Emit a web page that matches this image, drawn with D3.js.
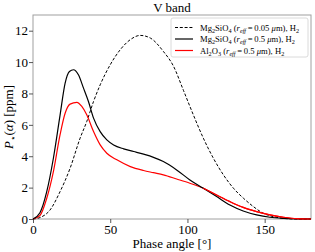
<!DOCTYPE html>
<html><head><meta charset="utf-8">
<script src="https://cdn.jsdelivr.net/npm/d3@7/dist/d3.min.js"></script>
<style>
body{margin:0;background:#fff;}
svg{display:block;font-family:"Liberation Serif","DejaVu Serif",serif;}
</style></head>
<body><svg id="c" width="315" height="252"></svg>
<script>
const xTicks=[0,50,100,150];
const yTicks=[0,2,4,6,8,10,12];
const seriesNames=["Mg2SiO4 (0.05)","Mg2SiO4 (0.5)","Al2O3 (0.5)"];
const dashAngles=[0,4.5,11,17.5,24,30.5,34.8,39.2,43.5,50,56.5,63,69.5,76,84.4,90.9,97.4,103.8,110.3,116.8,123.3,129.8,136.3,142.7,149.2,155.7,162.2,170,180];
const dashValues=[0,0.09,0.57,1.74,3.23,5.15,6.21,7.49,8.55,9.83,10.79,11.43,11.70,11.53,10.68,9.75,8.2,6.64,5.15,3.87,2.81,1.96,1.32,0.79,0.36,0.15,0.04,0,0];
const blackAngles=[0,4.5,8.9,13.2,17.5,20.8,23.6,26.2,29.4,32.7,35.9,39.2,43.5,47.8,52.2,58.7,65.2,71.6,78,84.4,93,101.6,110.3,118.9,127.5,136.1,144.8,153.4,162.2,170,180];
const blackValues=[0,0.4,1.74,3.87,6.6,8.66,9.4,9.51,9.19,8.34,7.49,6.43,5.57,5.04,4.72,4.47,4.30,4.13,3.93,3.66,3.13,2.49,1.96,1.43,0.89,0.51,0.26,0.11,0.04,0.01,0];
const redAngles=[0,4.5,8.9,13.2,17.5,20.8,24,28.4,31.6,34.8,39.2,43.5,47.8,54.3,63,71.6,78,84.4,93,101.6,110.3,118.9,127.5,136.1,144.8,153.4,162.2,170.8,180];
const redValues=[0,0.22,1.32,3.02,5.36,6.74,7.32,7.43,7.17,6.64,5.57,4.72,4.19,3.77,3.34,3.09,2.95,2.81,2.55,2.28,1.96,1.53,1.11,0.74,0.47,0.26,0.11,0.02,0];

const svg=d3.select("#c");
const m={l:33,r:311,t:15,b:219};
const x=d3.scaleLinear().domain([0,180]).range([m.l,m.r]);
const y=d3.scaleLinear().domain([0,13]).range([m.b,m.t]);

svg.append("rect").attr("x",m.l).attr("y",m.t).attr("width",m.r-m.l).attr("height",m.b-m.t)
  .attr("fill","none").attr("stroke","#a0a0a0").attr("stroke-width",1);

const xa=svg.append("g").attr("transform",`translate(0,${m.b})`)
  .call(d3.axisBottom(x).tickValues(xTicks).tickSize(4).tickPadding(2).tickFormat(d3.format("d")));
const ya=svg.append("g").attr("transform",`translate(${m.l},0)`)
  .call(d3.axisLeft(y).tickValues(yTicks).tickSize(4).tickPadding(1).tickFormat(d3.format("d")));
[xa,ya].forEach(a=>{
  a.select(".domain").remove();
  a.selectAll(".tick line").attr("stroke","#444").attr("stroke-width",0.9);
  a.selectAll("text").attr("font-family","Liberation Serif").attr("font-size",13).attr("fill","#000");
});
xa.selectAll("text").attr("dy","0.66em");

const line=d3.line().x(d=>x(d[0])).y(d=>y(d[1])).curve(d3.curveMonotoneX);
const zip=(a,b)=>a.map((v,i)=>[v,b[i]]);
svg.append("path").datum(zip(dashAngles,dashValues)).attr("d",line).attr("fill","none")
  .attr("stroke","#000").attr("stroke-width",1).attr("stroke-dasharray","3,1.8");
svg.append("path").datum(zip(redAngles,redValues)).attr("d",line).attr("fill","none")
  .attr("stroke","#ff0000").attr("stroke-width",1.2);
svg.append("path").datum(zip(blackAngles,blackValues)).attr("d",line).attr("fill","none")
  .attr("stroke","#000").attr("stroke-width",1.2);
svg.append("path").datum(zip(redAngles,redValues).filter(d=>d[0]>=110)).attr("d",line).attr("fill","none")
  .attr("stroke","#ff0000").attr("stroke-width",1.2);

svg.append("text").attr("x",(m.l+m.r)/2).attr("y",12).attr("text-anchor","middle")
  .attr("font-size",13).text("V band");
svg.append("text").attr("x",(m.l+m.r)/2).attr("y",248).attr("text-anchor","middle")
  .attr("font-size",13).text("Phase angle [°]");
const yl=svg.append("text").attr("transform",`translate(13,${(m.t+m.b)/2}) rotate(-90)`)
  .attr("text-anchor","middle").attr("font-size",13);
yl.append("tspan").attr("font-style","italic").text("P");
yl.append("tspan").attr("font-size",9).attr("font-family","DejaVu Sans").attr("dy",2.5).text("⋆");
yl.append("tspan").attr("dy",-2.5).text("(");
yl.append("tspan").attr("font-style","italic").text("α");
yl.append("tspan").text(") [ppm]");

const lg=svg.append("g");
lg.append("rect").attr("x",171).attr("y",18).attr("width",137).attr("height",39).attr("rx",2)
  .attr("fill","#fff").attr("fill-opacity",0.85).attr("stroke","#d0d0d0").attr("stroke-width",0.8);
const rows=[
  {n:seriesNames[0],c:"#000",dash:"3,1.8",mol:[["Mg",""],["2","sub"],["SiO",""],["4","sub"]],r:"0.05"},
  {n:seriesNames[1],c:"#000",dash:null,mol:[["Mg",""],["2","sub"],["SiO",""],["4","sub"]],r:"0.5"},
  {n:seriesNames[2],c:"#ff0000",dash:null,mol:[["Al",""],["2","sub"],["O",""],["3","sub"]],r:"0.5"}
];
rows.forEach((r,i)=>{
  const yy=27.5+i*11.5;
  lg.append("line").attr("x1",175).attr("x2",193).attr("y1",yy).attr("y2",yy)
    .attr("stroke",r.c).attr("stroke-width",1.2).attr("stroke-dasharray",r.dash);
  const t=lg.append("text").attr("x",200).attr("y",yy+3).attr("font-size",8.6);
  let sub=false;
  r.mol.forEach(([s,k])=>{
    const ts=t.append("tspan").text(s);
    if(k==="sub"&&!sub){ts.attr("dy",2).attr("font-size",6.2);sub=true;}
    else if(k!=="sub"&&sub){ts.attr("dy",-2);sub=false;}
    else if(k==="sub") ts.attr("font-size",6.2);
  });
  t.append("tspan").attr("dy",-2).text(" (");
  t.append("tspan").attr("font-style","italic").text("r");
  t.append("tspan").attr("dy",2).attr("font-size",6.2).attr("font-style","italic").text("eff");
  t.append("tspan").attr("dy",-2).text("\u2009=\u20090."+r.r.slice(2)+" ");
  t.append("tspan").attr("font-style","italic").text("μ");
  t.append("tspan").text("m), H");
  t.append("tspan").attr("dy",2).attr("font-size",6.2).text("2");
});
</script></body></html>
